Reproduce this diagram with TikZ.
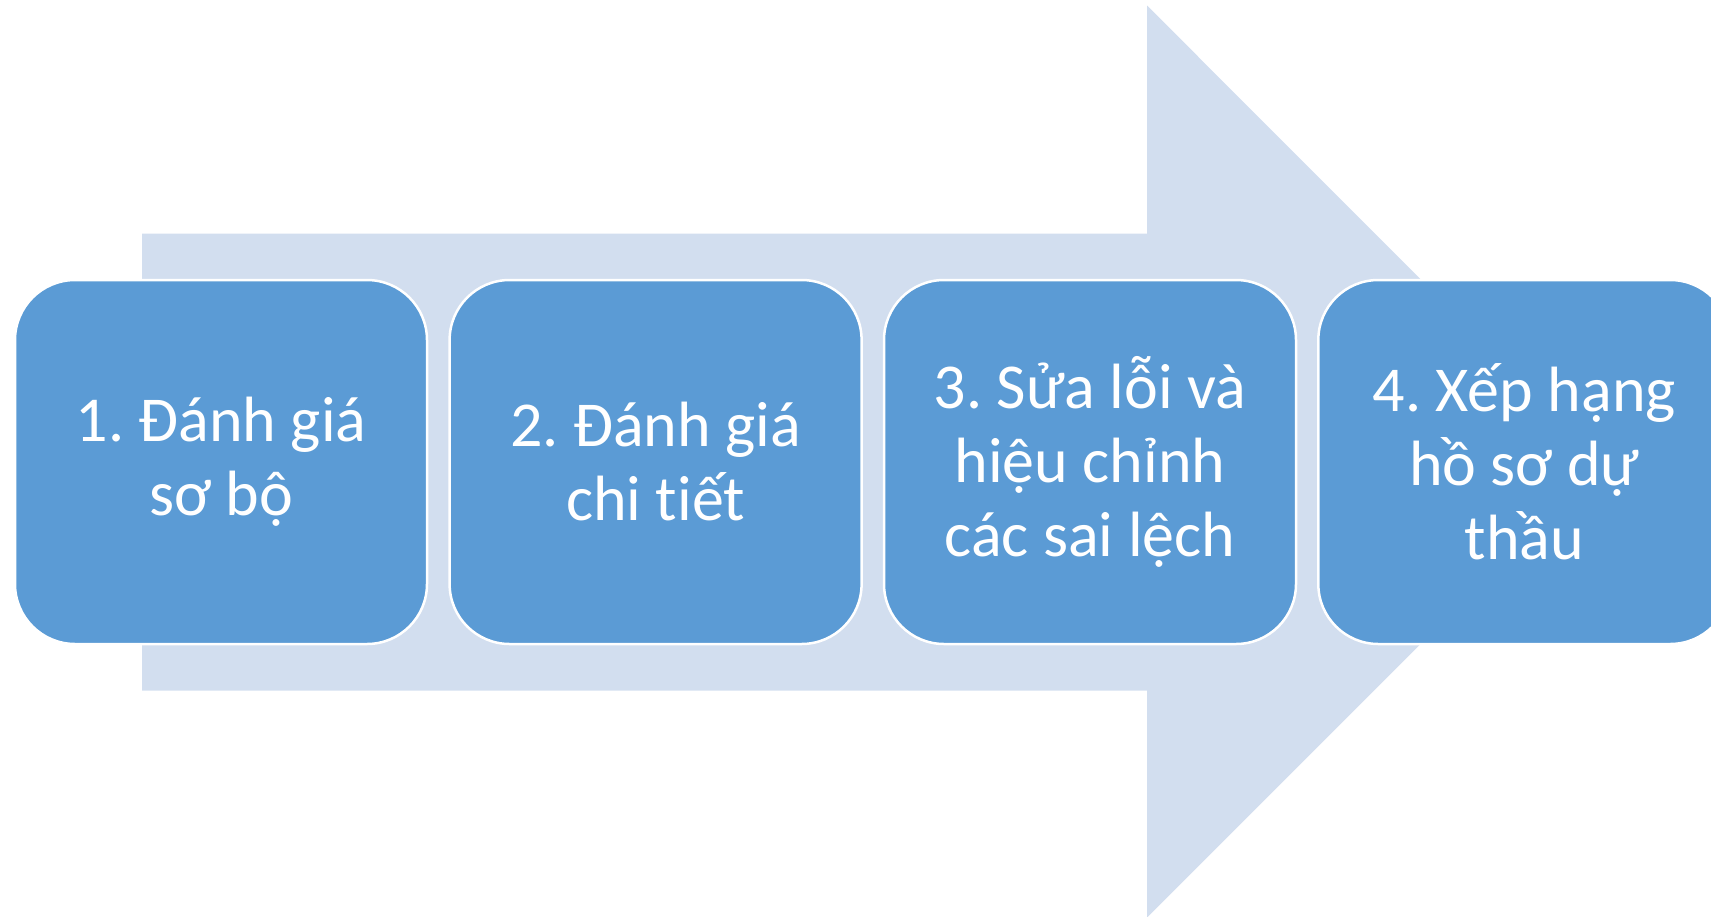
\documentclass[tikz,border=0pt]{standalone}
\usepackage{fontspec}
\setmainfont{Carlito}[Ligatures={NoCommon,NoDiscretionary}]
\frenchspacing
\definecolor{arrowfill}{HTML}{D2DEEF}
\definecolor{boxfill}{HTML}{5B9BD5}
\begin{document}
\begin{tikzpicture}[x=1pt,y=-1pt,
  stepbox/.style={draw=white, line width=2.5pt, fill=boxfill, rounded corners=60pt,
    minimum width=412pt, minimum height=364pt, inner sep=0pt, outer sep=0pt,
    align=center, text=white, font=\fontsize{64}{74}\selectfont\frenchspacing}]
\useasboundingbox (0,0) rectangle (1711,916);
\clip (0,0) rectangle (1711,916);
\fill[arrowfill] (142,233.7) -- (1147,233.7) -- (1147,5.5) -- (1603,461.6)
  -- (1147,917.7) -- (1147,690.7) -- (142,690.7) -- cycle;
\node[stepbox] (s1) at (221,462) {1. Đánh giá\\sơ bộ};
\node[stepbox] (s2) at (655.6,462) {2. Đánh giá\\chi tiết};
\node[stepbox] (s3) at (1090,462) {3. Sửa lỗi và\\hiệu chỉnh\\các sai lệch};
\node[stepbox] (s4) at (1524.3,462) {4. Xếp hạng\\hồ sơ dự\\thầu};
\end{tikzpicture}
\end{document}
